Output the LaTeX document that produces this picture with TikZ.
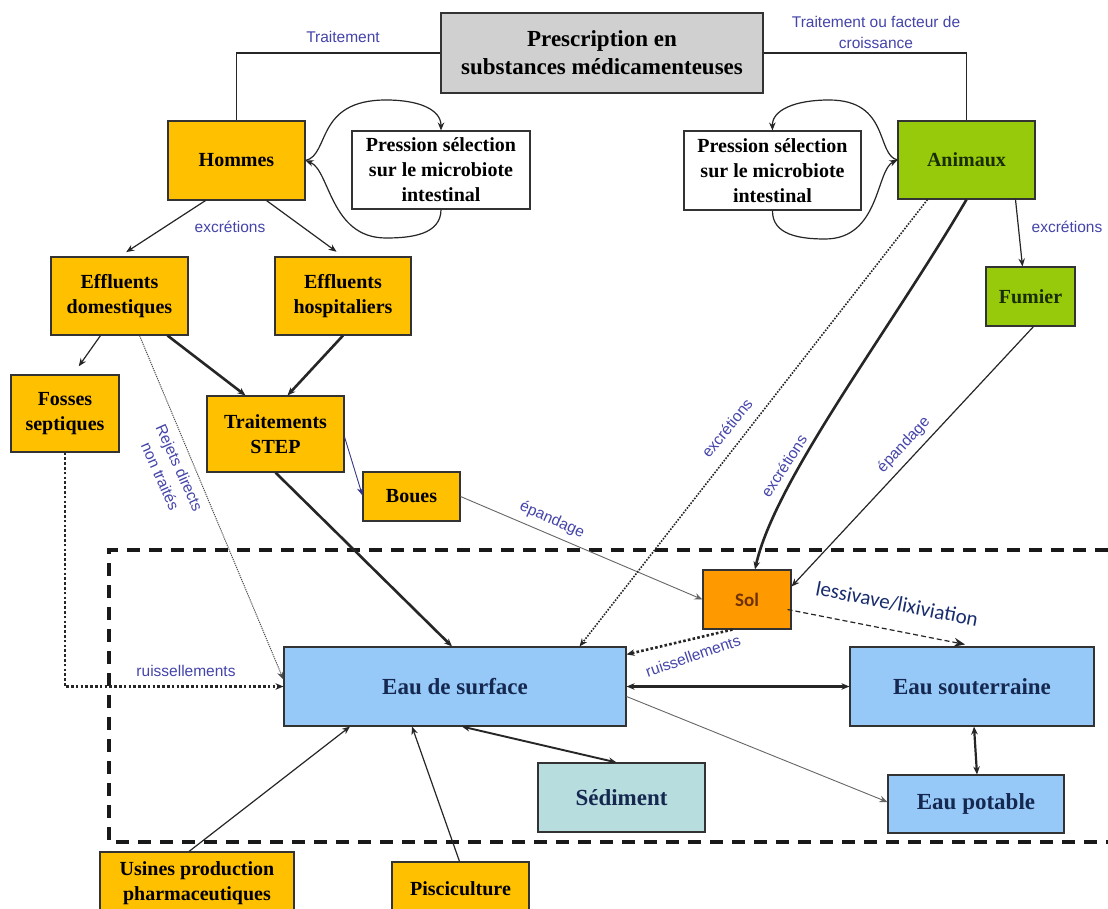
\documentclass[tikz,border=0pt]{standalone}
\usepackage{fontspec}
\setmainfont{Liberation Serif}
\setsansfont{Liberation Sans}
\newfontfamily\calibfont{Carlito}
\usetikzlibrary{arrows.meta,calc}
\definecolor{yel}{RGB}{255,192,0}
\definecolor{grn}{RGB}{150,202,10}
\definecolor{gry}{RGB}{208,208,208}
\definecolor{org}{RGB}{255,153,0}
\definecolor{blu}{RGB}{150,200,248}
\definecolor{sedc}{RGB}{183,221,222}
\definecolor{labblue}{RGB}{68,68,170}
\definecolor{navytxt}{RGB}{20,40,80}
\definecolor{lixblue}{RGB}{25,45,110}
\definecolor{soltxt}{RGB}{110,50,0}
\definecolor{grntxt}{RGB}{25,45,0}
\newcommand\bxfont{\fontsize{20}{25}\selectfont\bfseries}
\newcommand\bigbxfont{\fontsize{23}{28}\selectfont\bfseries}
\newcommand\lbfont{\sffamily\fontsize{15.5}{21}\selectfont}
\begin{document}
\begin{tikzpicture}[x=1pt,y=-1pt,
  box/.style={draw=black!80, line width=1.1pt, align=center, inner sep=1pt, font=\bxfont, text=black},
  ybox/.style={box, fill=yel},
  gbox/.style={box, fill=grn, text=grntxt},
  wbox/.style={box, fill=white},
  bbox/.style={box, fill=blu, text=navytxt, font=\bigbxfont},
  lab/.style={font=\lbfont, text=labblue, inner sep=0, align=center},
  lix/.style={font=\calibfont\fontsize{21}{23}\selectfont, text=lixblue, inner sep=0},
  tip/.style={-{Stealth[length=8pt,width=6.5pt]}},
  conn/.style={draw=black!85, line width=1.2pt},
  arr/.style={conn, tip},
  darr/.style={conn, {Stealth[length=8pt,width=6.5pt]}-{Stealth[length=8pt,width=6.5pt]}},
  thickarr/.style={arr, line width=2.6pt},
  thinarr/.style={arr, draw=black!60, line width=0.9pt},
  bigdots/.style={conn, line width=2.6pt, dash pattern=on 2.6pt off 2.2pt, tip},
  smalldots/.style={conn, line width=1.6pt, dash pattern=on 1.6pt off 1.4pt, tip},
  region/.style={draw=black!90, line width=3.2pt, dash pattern=on 13pt off 9pt}
]
\useasboundingbox (0,0) rectangle (1108,909);
\fill[white] (0,0) rectangle (1108,909);

% dashed region
\draw[region] (1108,550) -- (109,550) -- (109,842) -- (1108,842);

% nodes
\node[box, fill=gry, minimum width=322, minimum height=80, font=\fontsize{23}{28}\selectfont\bfseries] (presc) at (602,53) {Prescription en\\substances médicamenteuses};
\node[ybox, minimum width=137, minimum height=79] (hom) at (236.5,160.5) {Hommes};
\node[wbox, minimum width=178, minimum height=78] (pl) at (441,170) {Pression sélection\\sur le microbiote\\intestinal};
\node[wbox, minimum width=177, minimum height=79] (pr) at (772.5,170.5) {Pression sélection\\sur le microbiote\\intestinal};
\node[gbox, minimum width=137, minimum height=78] (ani) at (966.5,160) {Animaux};
\node[ybox, minimum width=137, minimum height=78] (effd) at (119.5,296) {Effluents\\domestiques};
\node[ybox, minimum width=136, minimum height=78] (effh) at (343,296) {Effluents\\hospitaliers};
\node[ybox, minimum width=108, minimum height=77] (fos) at (65,413.5) {Fosses\\septiques};
\node[ybox, minimum width=137, minimum height=76] (step) at (275.5,434) {Traitements\\STEP};
\node[ybox, minimum width=97, minimum height=49] (boue) at (411.5,496.5) {Boues};
\node[gbox, minimum width=89, minimum height=59] (fum) at (1030.5,296.5) {Fumier};
\node[box, fill=org, text=soltxt, font=\calibfont\bfseries\fontsize{19}{22}\selectfont, minimum width=88, minimum height=59] (sol) at (747,599.5) {Sol};
\node[bbox, minimum width=342, minimum height=79] (eaus) at (455,686.5) {Eau de surface};
\node[bbox, minimum width=244, minimum height=79] (eausout) at (972,686.5) {Eau souterraine};
\node[bbox, fill=sedc, minimum width=167, minimum height=69] (sed) at (621.5,797.5) {Sédiment};
\node[bbox, minimum width=176, minimum height=58] (eaup) at (976,804) {Eau potable};
\node[ybox, minimum width=194, minimum height=63] (usi) at (197,883.5) {Usines production\\pharmaceutiques};
\node[ybox, minimum width=137, minimum height=53] (pisc) at (460.5,888.5) {Pisciculture};

% prescription links
\draw[conn] (presc.west) -| (hom.north);
\draw[conn] (presc.east) -| (ani.north);
\node[lab] (lt1) at (343,37) {Traitement};
\node[lab] (lt2) at (876,32) {Traitement ou facteur de\\croissance};

% loops
\draw[arr] (hom.east) .. controls (330,155) and (315,100) .. (386,100) .. controls (420,100) and (441,110) .. (pl.north);
\draw[arr] (pl.south) .. controls (441,235) and (410,238) .. (386,238) .. controls (330,238) and (330,170) .. (hom.east);
\draw[arr] (ani.west) .. controls (876,155) and (890,100) .. (829,100) .. controls (795,100) and (772,110) .. (pr.north);
\draw[arr] (pr.south) .. controls (772,235) and (800,239) .. (825,239) .. controls (880,239) and (876,170) .. (ani.west);

% hommes
\draw[arr, shorten >=8pt] ($(hom.south)+(-31,0)$) -- (effd.north);
\draw[arr, shorten >=8pt] ($(hom.south)+(30,0)$) -- (effh.north);
\node[lab] (lex1) at (230,227) {excrétions};

% effluents
\draw[arr, shorten >=10pt] ($(effd.south)+(-19,0)$) -- ($(fos.north)+(8,0)$);
\draw[thickarr] ($(effd.south)+(48,0)$) -- ($(step.north)+(-30,0)$);
\draw[thickarr] (effh.south) -- ($(step.north)+(12,0)$);
\draw[conn, draw=black!70, line width=1pt, dash pattern=on 1.2pt off 1pt, tip] ($(effd.south)+(20,0)$) -- ($(eaus.west)+(0,-7)$);
\node[lab, rotate=-66] (lrej) at (170,472) {Rejets directs\\non traités};

% STEP
\draw[arr, draw=labblue!80!black, line width=0.9pt] ($(step.east)+(0,3)$) -- ($(boue.west)+(0,-1)$);
\draw[thickarr] (step.south) -- ($(eaus.north)+(-3,0)$);
\draw[thinarr] (boue.east) -- (sol.west);
\node[lab, rotate=-24] (lep1) at (552,520) {épandage};

% fosses
\draw[bigdots] (fos.south) |- (eaus.west);
\node[lab] (lru1) at (186,671) {ruissellements};

% animaux
\draw[arr] ($(ani.south)+(49,0)$) -- ($(fum.north)+(-8,0)$);
\node[lab] (lex2) at (1067,227) {excrétions};
\draw[smalldots] ($(ani.south)+(-39,0)$) -- ($(eaus.north east)+(-47,0)$);
\node[lab, rotate=51] (lex3) at (727,428) {excrétions};
\draw[thickarr] (ani.south) .. controls (890,330) and (775,480) .. ($(sol.north)+(8,0)$);
\node[lab, rotate=57] (lex4) at (784,466) {excrétions};
\draw[arr] ($(fum.south)+(3,0)$) -- ($(sol.east)+(0,-13)$);
\node[lab, rotate=47] (lep2) at (904,445) {épandage};

% sol
\draw[bigdots] ($(sol.south west)+(30,0)$) -- ($(eaus.north east)+(0,8)$);
\node[lab, rotate=19] (lru2) at (693,656) {ruissellements};
\draw[conn, line width=1.2pt, dash pattern=on 5pt off 3pt, -{Stealth[length=11pt,width=9pt]}] ($(sol.east)+(-4,10)$) -- ($(eausout.north)+(-7,-2)$);
\node[lix, rotate=-11] (llix) at (897,604) {lessivave/lixiviation};

% waters
\draw[darr, line width=2.4pt] (eaus.east) -- (eausout.west);
\draw[thinarr] ($(eaus.east)+(0,10)$) -- ($(eaup.west)+(0,-2)$);
\draw[darr, line width=1.9pt] ($(eaus.south)+(7,0)$) -- ($(sed.north)+(-5,0)$);
\draw[darr, line width=2.2pt] ($(eausout.south)+(2,0)$) -- ($(eaup.north)+(1,0)$);
\draw[arr] ($(usi.north)+(-8,0)$) -- ($(eaus.south)+(-105,0)$);
\draw[arr] ($(pisc.north)+(-1,0)$) -- ($(eaus.south)+(-43,0)$);
\end{tikzpicture}
\end{document}
